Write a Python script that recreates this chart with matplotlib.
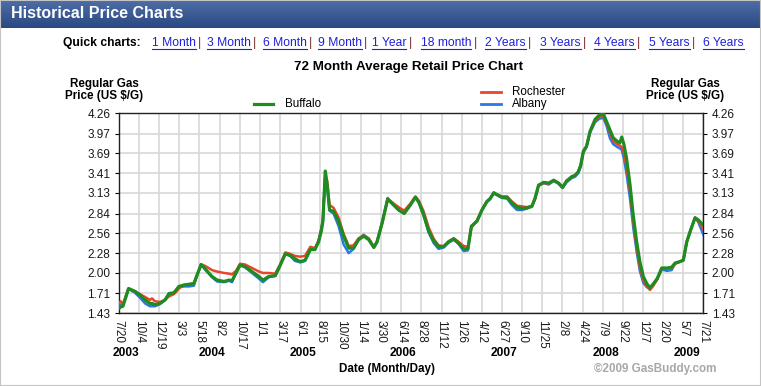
import numpy as np
import pandas as pd
import matplotlib
matplotlib.use("Agg")
import matplotlib.pyplot as plt
from matplotlib.lines import Line2D
from matplotlib.patches import Rectangle

plt.rcParams["font.family"] = ["Liberation Sans", "DejaVu Sans"]

# =========================
# Data
# =========================

dates = [
    "2003-07-20", "2003-07-28", "2003-08-05", "2003-08-16", "2003-08-26", "2003-09-19",
    "2003-10-08", "2003-10-27", "2003-11-14", "2003-11-22", "2003-12-03", "2003-12-22",
    "2004-01-10", "2004-01-25", "2004-02-12", "2004-03-02", "2004-03-21", "2004-04-09",
    "2004-04-27", "2004-05-09", "2004-05-24", "2004-06-08", "2004-07-04", "2004-07-23",
    "2004-08-18", "2004-09-06", "2004-09-17", "2004-10-02", "2004-10-17", "2004-11-05",
    "2004-12-01", "2004-12-27", "2005-01-11", "2005-02-02", "2005-02-26", "2005-03-17",
    "2005-04-05", "2005-04-23", "2005-05-11", "2005-05-31", "2005-06-18", "2005-07-08",
    "2005-07-25", "2005-08-08", "2005-08-18", "2005-08-24", "2005-09-02", "2005-09-09",
    "2005-09-18", "2005-10-03", "2005-10-22", "2005-11-10", "2005-11-29", "2005-12-17",
    "2006-01-05", "2006-01-24", "2006-02-12", "2006-03-03", "2006-03-15", "2006-04-03",
    "2006-04-24", "2006-05-17", "2006-06-04", "2006-06-25", "2006-07-18", "2006-08-06",
    "2006-08-19", "2006-09-06", "2006-09-25", "2006-10-14", "2006-11-01", "2006-11-20",
    "2006-12-09", "2006-12-28", "2007-01-15", "2007-02-03", "2007-02-19", "2007-03-04",
    "2007-03-25", "2007-04-13", "2007-05-01", "2007-05-13", "2007-05-27", "2007-06-12",
    "2007-06-27", "2007-07-16", "2007-08-03", "2007-08-22", "2007-09-10", "2007-09-29",
    "2007-10-17", "2007-10-29", "2007-11-11", "2007-11-30", "2007-12-19", "2008-01-07",
    "2008-01-25", "2008-02-09", "2008-02-24", "2008-03-14", "2008-03-27", "2008-04-08",
    "2008-04-17", "2008-04-27", "2008-05-09", "2008-05-22", "2008-06-10", "2008-06-26",
    "2008-07-11", "2008-07-23", "2008-08-05", "2008-08-17", "2008-09-01", "2008-09-11",
    "2008-09-18", "2008-09-26", "2008-10-06", "2008-10-19", "2008-10-31", "2008-11-13",
    "2008-11-25", "2008-12-08", "2008-12-21", "2009-01-02", "2009-01-15", "2009-01-29",
    "2009-02-15", "2009-03-06", "2009-03-24", "2009-04-06", "2009-04-24", "2009-05-07",
    "2009-05-20", "2009-06-04", "2009-06-20", "2009-07-02", "2009-07-15", "2009-07-21",
]

buffalo = [
    1.50, 1.52, 1.53, 1.66, 1.78, 1.74, 1.69, 1.62, 1.57, 1.57, 1.55, 1.57,
    1.62, 1.71, 1.72, 1.81, 1.83, 1.84, 1.85, 1.97, 2.12, 2.06, 1.95, 1.90,
    1.88, 1.90, 1.89, 2.00, 2.11, 2.09, 2.02, 1.95, 1.90, 1.95, 1.96, 2.11,
    2.27, 2.25, 2.20, 2.16, 2.18, 2.33, 2.33, 2.44, 2.59, 2.73, 3.44, 3.25,
    2.89, 2.87, 2.73, 2.52, 2.35, 2.35, 2.47, 2.52, 2.47, 2.36, 2.44, 2.70,
    3.04, 2.96, 2.89, 2.84, 2.96, 3.07, 3.00, 2.82, 2.59, 2.45, 2.37, 2.37,
    2.44, 2.48, 2.42, 2.34, 2.34, 2.66, 2.73, 2.89, 3.01, 3.05, 3.13, 3.10,
    3.07, 3.07, 2.99, 2.93, 2.91, 2.92, 2.94, 3.06, 3.24, 3.28, 3.27, 3.31,
    3.27, 3.21, 3.30, 3.36, 3.38, 3.43, 3.52, 3.72, 3.79, 4.00, 4.17, 4.23,
    4.25, 4.14, 4.02, 3.91, 3.86, 3.84, 3.92, 3.82, 3.62, 3.25, 2.82, 2.44,
    2.16, 1.95, 1.85, 1.79, 1.85, 1.92, 2.07, 2.07, 2.08, 2.14, 2.16, 2.18,
    2.44, 2.61, 2.78, 2.75, 2.70, 2.68,
]

rochester = [
    1.57, 1.60, 1.55, 1.68, 1.78, 1.74, 1.70, 1.66, 1.62, 1.64, 1.60, 1.59,
    1.62, 1.67, 1.70, 1.78, 1.83, 1.84, 1.85, 1.97, 2.12, 2.10, 2.04, 2.02,
    2.00, 1.99, 1.98, 2.03, 2.13, 2.12, 2.07, 2.02, 2.00, 2.00, 1.99, 2.12,
    2.29, 2.27, 2.24, 2.23, 2.24, 2.37, 2.35, 2.46, 2.61, 2.74, 3.38, 3.30,
    2.96, 2.92, 2.78, 2.55, 2.38, 2.39, 2.49, 2.53, 2.49, 2.37, 2.44, 2.70,
    3.05, 2.98, 2.93, 2.88, 2.98, 3.08, 3.02, 2.87, 2.64, 2.48, 2.39, 2.38,
    2.45, 2.49, 2.44, 2.38, 2.37, 2.64, 2.74, 2.90, 3.01, 3.05, 3.12, 3.10,
    3.08, 3.08, 3.01, 2.95, 2.94, 2.93, 2.95, 3.04, 3.23, 3.27, 3.26, 3.31,
    3.27, 3.21, 3.29, 3.35, 3.38, 3.43, 3.52, 3.71, 3.79, 3.99, 4.15, 4.21,
    4.22, 4.12, 3.98, 3.86, 3.82, 3.80, 3.78, 3.70, 3.50, 3.15, 2.74, 2.36,
    2.08, 1.90, 1.81, 1.76, 1.82, 1.91, 2.06, 2.06, 2.07, 2.13, 2.16, 2.18,
    2.44, 2.61, 2.78, 2.74, 2.66, 2.62,
]

albany = [
    1.53, 1.55, 1.56, 1.66, 1.78, 1.72, 1.65, 1.57, 1.53, 1.53, 1.53, 1.56,
    1.62, 1.71, 1.71, 1.80, 1.81, 1.81, 1.82, 1.97, 2.12, 2.05, 1.94, 1.88,
    1.87, 1.89, 1.87, 2.00, 2.11, 2.08, 2.00, 1.92, 1.87, 1.94, 1.96, 2.11,
    2.27, 2.24, 2.17, 2.15, 2.17, 2.33, 2.33, 2.46, 2.63, 2.75, 3.42, 3.22,
    2.88, 2.84, 2.66, 2.40, 2.28, 2.34, 2.48, 2.54, 2.48, 2.36, 2.43, 2.72,
    3.06, 2.95, 2.89, 2.84, 2.96, 3.07, 2.99, 2.81, 2.57, 2.42, 2.34, 2.36,
    2.43, 2.47, 2.41, 2.31, 2.32, 2.66, 2.74, 2.89, 3.00, 3.04, 3.14, 3.09,
    3.06, 3.05, 2.96, 2.89, 2.89, 2.91, 2.94, 3.05, 3.24, 3.27, 3.25, 3.30,
    3.26, 3.20, 3.28, 3.34, 3.36, 3.41, 3.50, 3.70, 3.78, 3.98, 4.13, 4.18,
    4.19, 4.08, 3.90, 3.82, 3.78, 3.76, 3.74, 3.62, 3.40, 3.05, 2.65, 2.30,
    2.03, 1.86, 1.80, 1.78, 1.84, 1.91, 2.05, 2.03, 2.04, 2.13, 2.16, 2.18,
    2.44, 2.62, 2.78, 2.72, 2.60, 2.54,
]

tick_dates = [
    "2003-07-20", "2003-10-04", "2003-12-19", "2004-03-03", "2004-05-18", "2004-08-02",
    "2004-10-17", "2005-01-01", "2005-03-17", "2005-06-01", "2005-08-15", "2005-10-30",
    "2006-01-14", "2006-03-30", "2006-06-14", "2006-08-28", "2006-11-12", "2007-01-26",
    "2007-04-12", "2007-06-27", "2007-09-10", "2007-11-25", "2008-02-08", "2008-04-24",
    "2008-07-09", "2008-09-22", "2008-12-07", "2009-02-20", "2009-05-07", "2009-07-21",
]
tick_labels = [
    "7/20", "10/4", "12/19", "3/3", "5/18", "8/2", "10/17", "1/1", "3/17", "6/1",
    "8/15", "10/30", "1/14", "3/30", "6/14", "8/28", "11/12", "1/26", "4/12", "6/27",
    "9/10", "11/25", "2/8", "4/24", "7/9", "9/22", "12/7", "2/20", "5/7", "7/21",
]
y_ticks = [1.43, 1.71, 2.00, 2.28, 2.56, 2.84, 3.13, 3.41, 3.69, 3.97, 4.26]
y_labels = ["1.43", "1.71", "2.00", "2.28", "2.56", "2.84", "3.13", "3.41", "3.69", "3.97", "4.26"]

years = ["2003", "2004", "2005", "2006", "2007", "2008", "2009"]
quick_links = ["1 Month", "3 Month", "6 Month", "9 Month", "1 Year", "18 month",
               "2 Years", "3 Years", "4 Years", "5 Years", "6 Years"]

# =========================
# Layout (pixels)
# =========================

W, H = 761, 386
year_x = [126, 212, 303, 403, 504, 606, 687]
link_x = [152, 207, 263, 318, 372, 421, 485, 540, 594, 649, 703]

GREEN = "#1e8c1e"
RED = "#e8452c"
BLUE = "#2a78e0"


def fx(px):
    return px / W


def fy(py):
    return 1 - py / H


fig = plt.figure(figsize=(W / 100, H / 100), dpi=100)
fig.patch.set_facecolor("white")

# header bar with gradient
hax = fig.add_axes([0, fy(28), 1, 28 / H])
grad = np.linspace(0, 1, 64).reshape(-1, 1)
cmap = matplotlib.colors.LinearSegmentedColormap.from_list("hdr", ["#4f6ea6", "#2a4882"])
hax.imshow(grad, aspect="auto", cmap=cmap, extent=[0, 1, 0, 1])
hax.axis("off")
fig.text(fx(11), fy(14), "Historical Price Charts", color="white", fontsize=11.5,
         fontweight="bold", va="center", ha="left")

# outer border
fig.add_artist(Rectangle((0, 0), 1, 1, transform=fig.transFigure, fill=False,
                         edgecolor="#c4c4c4", lw=1.5))

# quick chart links
fig.text(fx(63), fy(43), "Quick charts:", fontsize=8.7, fontweight="bold", va="center")
fig.canvas.draw()
renderer = fig.canvas.get_renderer()
for i, (name, x0) in enumerate(zip(quick_links, link_x)):
    t = fig.text(fx(x0), fy(43), name, fontsize=8.7, color="#2020d8", va="center")
    bb = t.get_window_extent(renderer)
    fig.add_artist(Line2D([fx(x0), fx(x0) + bb.width / W], [fy(49), fy(49)],
                          transform=fig.transFigure, color="#2020d8", lw=0.8))
    if i < len(quick_links) - 1:
        fig.text(fx(x0) + bb.width / W + fx(2), fy(43), "|", fontsize=8.7,
                 color="#7a2c2c", va="center")

# chart title and axis titles
fig.text(fx(408), fy(67), "72 Month Average Retail Price Chart", fontsize=9.6,
         fontweight="bold", ha="center", va="center")
for cx in (104, 685):
    fig.text(fx(cx), fy(90), "Regular Gas\nPrice (US $/G)", fontsize=8.4,
             fontweight="bold", ha="center", va="center", linespacing=1.1)

# =========================
# Main plot
# =========================

x = pd.to_datetime(dates)
ax = fig.add_axes([fx(118.7), fy(313.3), (703.3 - 118.7) / W, (313.3 - 113) / H])

ax.plot(x, albany, color=BLUE, lw=1.8, zorder=3)
ax.plot(x, rochester, color=RED, lw=1.8, zorder=4)
ax.plot(x, buffalo, color=GREEN, lw=2.3, zorder=5)

ax.set_xlim(pd.Timestamp("2003-07-20"), pd.Timestamp("2009-07-21"))
ax.set_ylim(1.43, 4.26)
ax.set_xticks(pd.to_datetime(tick_dates))
ax.set_xticklabels(tick_labels, rotation=270, fontsize=8.5, color="#1a1a1a")
ax.set_yticks(y_ticks)
ax.set_yticklabels(y_labels, fontsize=8.5, color="#1a1a1a")
ax.tick_params(axis="y", left=True, right=True, labelleft=True, labelright=True,
               length=3, width=0.8, pad=3)
ax.tick_params(axis="x", length=0, pad=5)
ax.grid(True, color="#d8d8d8", lw=1.2)
ax.set_axisbelow(True)
for s in ax.spines.values():
    s.set_color("#222222")
    s.set_linewidth(1.0)

# legend drawn by hand to match the split placement
fig.add_artist(Line2D([fx(254), fx(273)], [fy(104), fy(104)], transform=fig.transFigure,
                      color=GREEN, lw=2.3))
fig.text(fx(285), fy(104), "Buffalo", fontsize=8.4, va="center")
fig.add_artist(Line2D([fx(481), fx(501)], [fy(92), fy(92)], transform=fig.transFigure,
                      color=RED, lw=2.0))
fig.text(fx(512), fy(92), "Rochester", fontsize=8.4, va="center")
fig.add_artist(Line2D([fx(481), fx(501)], [fy(104), fy(104)], transform=fig.transFigure,
                      color=BLUE, lw=2.0))
fig.text(fx(512), fy(104), "Albany", fontsize=8.4, va="center")

# year labels and footer
for yr, px in zip(years, year_x):
    fig.text(fx(px), fy(353), yr, fontsize=8.6, fontweight="bold", ha="center", va="center")
fig.text(fx(387), fy(369), "Date (Month/Day)", fontsize=8.4, fontweight="bold",
         ha="center", va="center")
fig.text(fx(655), fy(369), "\u00a92009 GasBuddy.com", fontsize=8.4, fontweight="bold",
         color="#a8a8a8", ha="center", va="center")

fig.savefig("out.png", dpi=100)
